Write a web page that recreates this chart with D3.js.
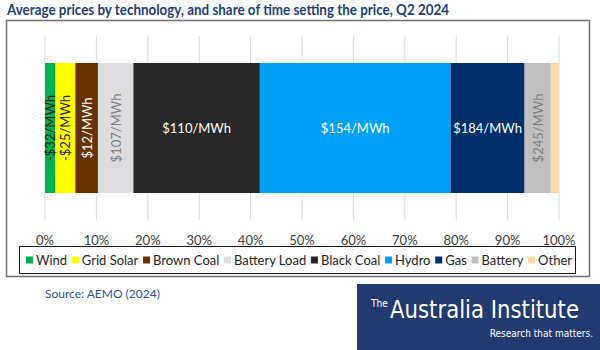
<!DOCTYPE html>
<html>
<head>
<meta charset="utf-8">
<script src="https://cdn.jsdelivr.net/npm/d3@7"></script>
<style>
  body { margin: 0; background: #fff; }
  svg text { font-family: Lato, "Open Sans", sans-serif; }
</style>
</head>
<body>
<div id="chart"></div>
<script>
// technologies, share of time setting the price (%), average price labels
const categories = ["Wind", "Grid Solar", "Brown Coal", "Battery Load", "Black Coal", "Hydro", "Gas", "Battery", "Other"];
const shares = [2.0, 3.9, 4.4, 6.9, 24.6, 37.1, 14.4, 5.1, 1.6];
const priceLabels = ["-$32/MWh", "-$25/MWh", "$12/MWh", "$107/MWh", "$110/MWh", "$154/MWh", "$184/MWh", "$245/MWh", ""];
const tickValues = [0, 10, 20, 30, 40, 50, 60, 70, 80, 90, 100];

const colors = ["#00b050", "#ffff00", "#663300", "#dddddf", "#282828", "#00a0f8", "#002f6a", "#bfbfbf", "#fdd8a8"];
const labelColors = ["#1e1e1e", "#262626", "#ffffff", "#7f7f7f", "#ffffff", "#ffffff", "#ffffff", "#7f7f7f", "#7f7f7f"];

const width = 600, height = 350;
const margin = { left: 45, right: 41 };

const svg = d3.select("#chart")
    .append("svg")
    .attr("width", width)
    .attr("height", height);

// outer frame
svg.append("rect")
    .attr("x", 6.5).attr("y", 20.5)
    .attr("width", 583).attr("height", 256)
    .attr("fill", "none")
    .attr("stroke", "#6f6f6f")
    .attr("stroke-width", 1.5);

// title
svg.append("text")
    .attr("x", 7).attr("y", 15)
    .attr("fill", "#1f3f7a")
    .attr("textLength", 442)
    .attr("lengthAdjust", "spacingAndGlyphs")
    .style("font-size", "15px")
    .style("font-weight", "bold")
    .text("Average prices by technology, and share of time setting the price, Q2 2024");

const x = d3.scaleLinear()
    .domain([0, 100])
    .range([margin.left, width - margin.right]);

const barTop = 63, barBottom = 193, gridTop = 36, gridBottom = 220;

// gridlines
svg.append("g")
    .selectAll("line")
    .data(tickValues)
    .join("line")
    .attr("x1", d => x(d)).attr("x2", d => x(d))
    .attr("y1", gridTop).attr("y2", gridBottom)
    .attr("stroke", "#d9d9d9")
    .attr("stroke-width", 1);

// stacked segments
const ends = Array.from(d3.cumsum(shares));
const data = categories.map((c, i) => ({
    name: c,
    start: ends[i] - shares[i],
    end: ends[i],
    label: priceLabels[i],
    color: colors[i],
    labelColor: labelColors[i]
}));

svg.append("g")
    .selectAll("rect")
    .data(data)
    .join("rect")
    .attr("x", d => x(d.start))
    .attr("width", d => x(d.end) - x(d.start))
    .attr("y", barTop)
    .attr("height", barBottom - barTop)
    .attr("fill", d => d.color);

// labels: horizontal if it fits, otherwise rotated
const midY = (barTop + barBottom) / 2;
const labels = svg.append("g")
    .selectAll("text")
    .data(data.filter(d => d.label))
    .join("text")
    .attr("text-anchor", "middle")
    .attr("dominant-baseline", "central")
    .attr("fill", d => d.labelColor)
    .style("font-size", "13px")
    .text(d => d.label);

labels.each(function (d) {
    const w = this.getComputedTextLength();
    const cx = (x(d.start) + x(d.end)) / 2;
    const segW = x(d.end) - x(d.start);
    if (w < segW) {
        d3.select(this).attr("transform", `translate(${cx},${midY})`);
    } else {
        d3.select(this).attr("transform", `translate(${cx},${midY}) rotate(-90)`);
    }
});

// x axis tick labels
svg.append("g")
    .selectAll("text")
    .data(tickValues)
    .join("text")
    .attr("x", d => x(d))
    .attr("y", 240)
    .attr("text-anchor", "middle")
    .attr("dominant-baseline", "central")
    .attr("fill", "#404040")
    .style("font-size", "13px")
    .text(d => d + "%");

// legend
const legendBox = { x: 19.5, y: 246.5, w: 556, h: 27 };
svg.append("rect")
    .attr("x", legendBox.x).attr("y", legendBox.y)
    .attr("width", legendBox.w).attr("height", legendBox.h)
    .attr("fill", "none")
    .attr("stroke", "#1a1a1a")
    .attr("stroke-width", 1);

const legend = svg.append("g");
const items = legend.selectAll("g")
    .data(data)
    .join("g");
items.append("rect")
    .attr("width", 7).attr("height", 7)
    .attr("y", -3.5)
    .attr("fill", d => d.color);
items.append("text")
    .attr("x", 10)
    .attr("dominant-baseline", "central")
    .attr("fill", "#262626")
    .style("font-size", "13px")
    .text(d => d.name);

const itemW = [];
items.selectAll("text").each(function () { itemW.push(10 + this.getComputedTextLength()); });
const lStart = 26, lEnd = 572;
const gap = (lEnd - lStart - d3.sum(itemW)) / (itemW.length - 1);
let cursor = lStart;
items.attr("transform", (d, i) => {
    const t = `translate(${cursor},${legendBox.y + legendBox.h / 2})`;
    cursor += itemW[i] + gap;
    return t;
});

// source
svg.append("text")
    .attr("x", 45).attr("y", 293)
    .attr("dominant-baseline", "central")
    .attr("fill", "#2f5597")
    .style("font-size", "12px")
    .text("Source: AEMO (2024)");

// logo block
const logoFont = "'Liberation Sans Narrow', 'DejaVu Sans Condensed', 'Liberation Sans', sans-serif";
const logo = svg.append("g");
logo.append("rect")
    .attr("x", 357).attr("y", 284)
    .attr("width", 243).attr("height", 66)
    .attr("fill", "#213a70");
logo.append("text")
    .attr("x", 371).attr("y", 307)
    .attr("fill", "#fff")
    .attr("textLength", 17)
    .attr("lengthAdjust", "spacingAndGlyphs")
    .style("font-family", logoFont)
    .style("font-size", "11px")
    .text("The");
logo.append("text")
    .attr("x", 390).attr("y", 318)
    .attr("fill", "#fff")
    .attr("textLength", 189)
    .attr("lengthAdjust", "spacingAndGlyphs")
    .style("font-family", logoFont)
    .style("font-size", "25px")
    .text("Australia Institute");
logo.append("text")
    .attr("x", 593).attr("y", 337)
    .attr("text-anchor", "end")
    .attr("fill", "#fff")
    .style("font-family", logoFont)
    .style("font-size", "10px")
    .text("Research that matters.");
</script>
</body>
</html>
